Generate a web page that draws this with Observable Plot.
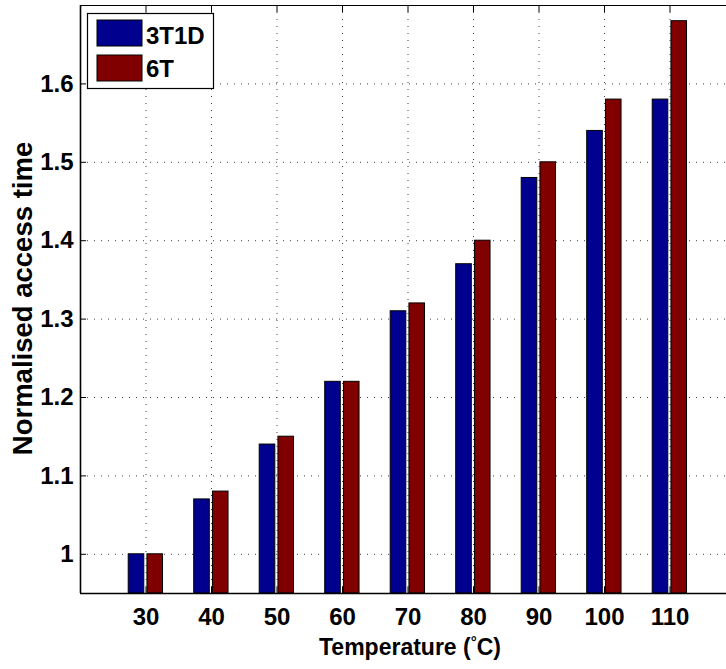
<!DOCTYPE html>
<html><head><meta charset="utf-8">
<script src="https://cdn.jsdelivr.net/npm/d3@7"></script>
<script src="https://cdn.jsdelivr.net/npm/@observablehq/plot@0.6"></script>
<style>
html,body{margin:0;padding:0;background:#fff;}
#chart{width:726px;height:669px;}
</style></head><body><div id="chart"></div>
<script>
const temperatures = [30, 40, 50, 60, 70, 80, 90, 100, 110];
const access3T1D = [1.00, 1.07, 1.14, 1.22, 1.31, 1.37, 1.48, 1.54, 1.58];
const access6T = [1.00, 1.08, 1.15, 1.22, 1.32, 1.40, 1.50, 1.58, 1.68];
const seriesNames = ["3T1D", "6T"];
const seriesColors = ["#00008F", "#800000"];
const yTicks = [1, 1.1, 1.2, 1.3, 1.4, 1.5, 1.6];
const yTickLabels = ["1", "1.1", "1.2", "1.3", "1.4", "1.5", "1.6"];
const xTickLabels = ["30", "40", "50", "60", "70", "80", "90", "100", "110"];
const xDomain = [20, 120];
const yDomain = [0.95, 1.7];
const xLabelText = ["Temperature (", "°", "C)"];
const yLabelText = "Normalised access time";

const rows = temperatures.flatMap((t, i) => [
  {t, series: seriesNames[0], value: access3T1D[i], k: 0},
  {t, series: seriesNames[1], value: access6T[i], k: 1}
]);
// MATLAB grouped bar placement (fraction of category spacing)
const barEdges = [[-0.264, -0.026], [0.022, 0.26]];
const step = 10;

const font = "'Liberation Sans', Arial, Helvetica, sans-serif";
const grid = {stroke: "#000", strokeOpacity: 0.75, strokeDasharray: "1,6", strokeWidth: 1};

const plot = Plot.plot({
  width: 726,
  height: 669,
  marginLeft: 80,
  marginRight: 0,
  marginTop: 5,
  marginBottom: 76,
  style: {fontFamily: font, fontWeight: "bold", fontSize: "24px", background: "#fff", color: "#000"},
  x: {type: "linear", domain: xDomain, range: [80, 735]},
  y: {domain: yDomain},
  color: {domain: seriesNames, range: seriesColors},
  marks: [
    Plot.ruleY(yTicks, {...grid}),
    Plot.ruleX(temperatures, {...grid}),
    Plot.rect(rows, {
      x1: d => d.t + barEdges[d.k][0] * step,
      x2: d => d.t + barEdges[d.k][1] * step,
      y1: yDomain[0],
      y2: "value",
      fill: "series",
      stroke: "#000",
      strokeWidth: 1
    }),
    Plot.axisY(yTicks, {anchor: "left", tickSize: -6, tickPadding: 13, fontSize: 24, fontWeight: "bold",
      tickFormat: (d, i) => yTickLabels[yTicks.indexOf(d)], label: null}),
    Plot.axisX(temperatures, {anchor: "bottom", tickSize: -6, tickPadding: 20, fontSize: 24, fontWeight: "bold",
      tickFormat: d => xTickLabels[temperatures.indexOf(d)], label: null}),
    Plot.axisX(temperatures, {anchor: "top", tickSize: -6, tickFormat: () => "", label: null}),
    Plot.ruleY([yDomain[0]], {stroke: "#000", strokeWidth: 1.6}),
    Plot.ruleY([yDomain[1]], {stroke: "#000", strokeWidth: 1.2}),
    Plot.ruleX([xDomain[0]], {stroke: "#000", strokeWidth: 1.6})
  ]
});
document.getElementById("chart").appendChild(plot);

const svg = d3.select(plot);
// Legend box
const lg = svg.append("g").attr("font-family", font).attr("font-weight", "bold").attr("text-anchor", "start");
lg.append("rect").attr("x", 87.5).attr("y", 13.5).attr("width", 126).attr("height", 75)
  .attr("fill", "#fff").attr("stroke", "#000").attr("stroke-width", 1.2);
seriesNames.forEach((name, i) => {
  lg.append("rect").attr("x", 97).attr("y", 20 + i * 35).attr("width", 45).attr("height", 26)
    .attr("fill", seriesColors[i]).attr("stroke", "#000").attr("stroke-width", 1);
  lg.append("text").attr("x", 146).attr("y", 44 + i * 33).attr("font-size", 24).attr("fill", "#000")
    .attr("text-anchor", "start").text(name);
});
// X label
const xl = svg.append("text").attr("x", 410).attr("y", 655).attr("text-anchor", "middle")
  .attr("font-family", font).attr("font-weight", "bold").attr("font-size", 23).attr("fill", "#000");
xl.append("tspan").text(xLabelText[0]);
xl.append("tspan").attr("dy", -8).attr("font-size", 15).text(xLabelText[1]);
xl.append("tspan").attr("dy", 8).text(xLabelText[2]);
// Y label
svg.append("text").attr("transform", "translate(32,298.5) rotate(-90)").attr("text-anchor", "middle")
  .attr("font-family", font).attr("font-weight", "bold").attr("font-size", 27.5).attr("fill", "#000")
  .text(yLabelText);
</script></body></html>
